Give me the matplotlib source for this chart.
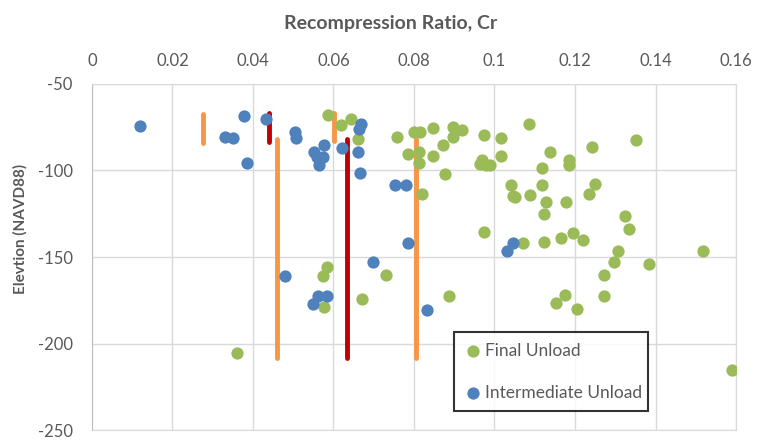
import matplotlib
matplotlib.use("Agg")
import matplotlib.pyplot as plt

plt.rcParams['font.family'] = ['Lato', 'DejaVu Sans']
plt.rcParams['axes.unicode_minus'] = False

# Final Unload (x = Cr, y = elevation)
final_x = [0.0361, 0.0587, 0.0619, 0.0644, 0.0662, 0.0759, 0.0800, 0.0814, 0.0786, 0.0813,
           0.0813, 0.0821, 0.0846, 0.0846, 0.0873, 0.0876, 0.0898, 0.0920, 0.0898, 0.0973,
           0.0970, 0.0963, 0.0978, 0.0990, 0.1015, 0.1015, 0.1085, 0.1119, 0.1139, 0.1184,
           0.1184, 0.1241, 0.1351, 0.1040, 0.1045, 0.1052, 0.1087, 0.1119, 0.1129, 0.1124,
           0.1177, 0.1249, 0.1234, 0.1323, 0.1333, 0.0975, 0.1070, 0.1122, 0.1164, 0.1194,
           0.1221, 0.1306, 0.1296, 0.1271, 0.1271, 0.1174, 0.1154, 0.1206, 0.1383, 0.1517,
           0.1590, 0.0585, 0.0575, 0.0577, 0.0672, 0.0731, 0.0886]
final_y = [-205.7, -67.8, -73.6, -70.1, -81.6, -80.5, -77.6, -77.6, -90.2, -89.1,
           -95.4, -113.8, -75.3, -91.4, -85.1, -102.3, -74.7, -76.4, -80.5, -79.3,
           -93.7, -96.0, -96.6, -96.6, -81.0, -91.4, -73.0, -98.3, -89.1, -93.7,
           -97.1, -86.2, -82.2, -108.6, -115.0, -115.6, -114.4, -108.6, -118.4, -125.0,
           -118.4, -108.0, -113.8, -126.4, -133.9, -135.6, -142.0, -141.4, -139.1, -136.2,
           -140.2, -146.6, -152.9, -160.3, -172.4, -171.8, -176.6, -180.0, -154.0, -146.6,
           -215.5, -155.7, -160.9, -178.7, -174.1, -160.3, -172.4]

# Intermediate Unload
inter_x = [0.0119, 0.0378, 0.0331, 0.0351, 0.0386, 0.0433, 0.0505, 0.0507, 0.0552, 0.0560,
           0.0575, 0.0577, 0.0565, 0.0622, 0.0662, 0.0669, 0.0664, 0.0667, 0.0754, 0.0779,
           0.0784, 0.0697, 0.0562, 0.0585, 0.0550, 0.0833, 0.1032, 0.1047, 0.0480]
inter_y = [-74.1, -68.4, -80.5, -81.0, -95.4, -70.1, -77.6, -81.0, -89.1, -92.0,
           -92.0, -85.1, -96.6, -86.8, -89.1, -73.0, -75.9, -101.7, -108.6, -108.6,
           -142.0, -152.9, -172.4, -172.4, -177.0, -180.5, -146.6, -142.0, -161.0]

# vertical range bars
orange_x = [0.0276, 0.0460, 0.0602, 0.0806]
orange_top = [-67.2, -81.6, -66.7, -81.6]
orange_bot = [-83.9, -208.6, -82.8, -208.6]
red_x = [0.0440, 0.0634]
red_top = [-66.7, -81.6]
red_bot = [-83.3, -208.6]

xticks = [0, 0.02, 0.04, 0.06, 0.08, 0.1, 0.12, 0.14, 0.16]
xlabels = ['0', '0.02', '0.04', '0.06', '0.08', '0.1', '0.12', '0.14', '0.16']
yticks = [-50, -100, -150, -200, -250]

green = '#9BBB59'
blue = '#4F81BD'
grey = '#595959'

fig = plt.figure(figsize=(7.59, 4.40), dpi=100)
ax = fig.add_axes([0.1212, 0.0227, 0.8485, 0.7864])

ax.vlines(orange_x, orange_bot, orange_top, color='#F79646', lw=3.5, capstyle='round', zorder=2)
ax.vlines(red_x, red_bot, red_top, color='#C00000', lw=3.5, capstyle='round', zorder=2)

ax.scatter(final_x, final_y, s=78, color=green, label='Final Unload', zorder=3, linewidths=0)
ax.scatter(inter_x, inter_y, s=78, color=blue, label='Intermediate Unload', zorder=3, linewidths=0)

ax.set_xlim(0, 0.16)
ax.set_ylim(-250, -50)
ax.set_xticks(xticks)
ax.set_xticklabels(xlabels)
ax.set_yticks(yticks)
ax.xaxis.tick_top()
ax.xaxis.set_label_position('top')
ax.tick_params(axis='x', length=0, labelsize=12, labelcolor=grey, pad=11)
ax.tick_params(axis='y', length=0, labelsize=12, labelcolor=grey, pad=14)
ax.grid(True, color='#D9D9D9', lw=1)
ax.set_axisbelow(True)
for s in ax.spines.values():
    s.set_color('#D9D9D9')
ax.spines['left'].set_color('#BFBFBF')

ax.set_xlabel('Recompression Ratio, Cr', fontsize=14, fontweight='bold', color=grey)
ax.xaxis.set_label_coords(0.463, 1.159)
ax.set_ylabel('Elevtion (NAVD88)', fontsize=11, fontweight='bold', color=grey)
ax.yaxis.set_label_coords(-0.0994, 0.58)

leg = ax.legend(loc='lower left', bbox_to_anchor=(0.562, 0.055, 0.301, 0.2225), mode='expand',
                fontsize=12.5, labelspacing=1.5, handlelength=1.0, handletextpad=0.2,
                borderpad=0.6, frameon=True, fancybox=False, scatterpoints=1, borderaxespad=0)
leg.get_frame().set_edgecolor('black')
leg.get_frame().set_linewidth(1.5)
for t in leg.get_texts():
    t.set_color(grey)

fig.savefig('out.png', dpi=100)
